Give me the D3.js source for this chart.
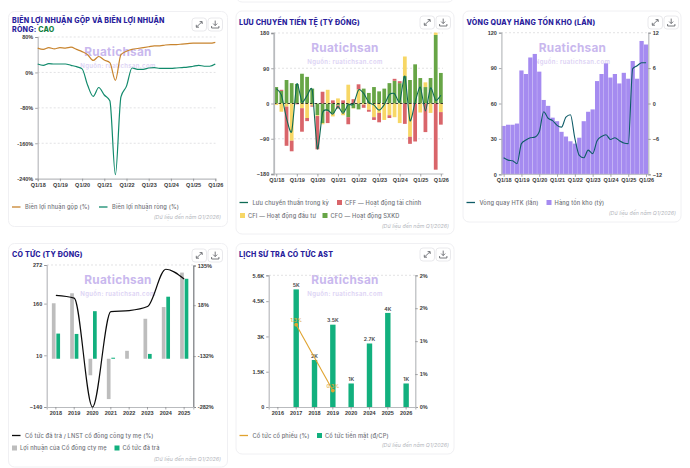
<!DOCTYPE html>
<html lang="vi">
<head>
<meta charset="utf-8">
<script src="https://cdn.jsdelivr.net/npm/d3@7"></script>
<style>
  html, body { margin: 0; padding: 0; background: #fff; overflow: hidden; }
  svg { display: block; font-family: Inter, "Noto Sans", sans-serif; }
  .tick text { font-size: 5.5px; font-weight: 700; fill: #3a3a3a; }
  .title { font-size: 7.05px; font-weight: 800; fill: #2a1d9c; letter-spacing: .22px; }
  .legend { font-size: 5.7px; font-weight: 500; fill: #6f7278; letter-spacing: .15px; }
  .note { font-size: 5.3px; font-style: italic; fill: #b4b6bc; }
  .wm1 { font-size: 11.8px; font-weight: 700; fill: #c9b8ee; letter-spacing: .3px; text-anchor: middle; }
  .wm2 { font-size: 6px; font-weight: 600; fill: #dcd2f4; letter-spacing: .35px; text-anchor: middle; }
</style>
</head>
<body>
<svg id="board" width="690" height="468"></svg>
<script>
// Quarterly axis shared by the three time-series panels
const quarters = ["18","19","20","21","22","23","24","25"].flatMap(y => [1,2,3,4].map(q => `Q${q}/${y}`)).concat(["Q1/26"]);
const yearTicks = quarters.filter(q => q.startsWith("Q1/"));

// Margins (%)
const grossMargin = [55,52,56,53,56,55,57,52,47,40,27,36,28,22,-18,40,48,52,54,56,58,60,60,62,63,63,64,65,66,66,66,66,68];
const netMargin = [19,16,20,19,19,19,16,13,8,-29,-54,-34,-51,-64,-231,-55,-31,10,7,7,10,11,9,9,9,10,11,12,14,16,14,14,19];

// Cash flows (billion VND)
const cfo = [42,32,60,52,50,76,68,38,-30,-50,-20,-25,-5,-22,-35,-12,-15,38,27,42,31,38,52,58,52,70,60,100,65,42,65,175,78];
const cff = [0,3,-100,-27,-2,-60,-8,-3,-85,30,-30,8,-8,8,-18,11,13,-8,-5,-7,-24,0,-7,5,5,-52,-18,-97,0,-73,0,-169,-32];
const cfi = [-4,-21,-8,-95,0,-12,-37,-5,-2,-3,35,-8,13,-8,48,-1,36,-3,-16,-35,-24,-42,-30,-35,-50,50,-85,0,-23,12,-24,6,-22];
const netCash = [38,22,-38,-72,50,4,20,34,-116,-24,-17,-27,-8,-25,-3,-2,35,26,3,-4,-17,-3,23,25,4,70,-44,4,42,-19,40,8,21];

// Inventory (billion VND) and turnover (times)
const inventory = [41,42,42,43,88,85,99,102,87,63,58,48,45,36,32,28,26,31,45,53,55,79,85,94,82,85,77,86,81,96,81,113,110];
const turnover = [-9.2,-9.6,-9.7,-10.2,-6.8,-6.2,-5.8,-5.7,-4.8,-1.4,-2.5,-2.9,-3.7,-4,-2.3,-1.9,-5.9,-8.8,-9.2,-7.9,-8.5,-6.3,-5.6,-5.3,-6.1,-5.8,-6.3,-6.7,-6.8,5.9,6.4,6.9,6.9];

// Yearly dividend figures
const divYears = ["2018","2019","2020","2021","2022","2023","2024","2025"];
const parentProfit = [161,190,-48,-117,23,116,150,250];
const dividendPaid = [73,72,138,3,0,14,180,232];
const payoutRatio = [47,39,-282,-1,2,14,124,95];

// Per-share dividend history
const histYears = ["2016","2017","2018","2019","2020","2024","2025","2026"];
const cashDividend = [null,5000,2000,3500,1000,2700,4000,1000];
const stockDividend = [null,1.25,null,0.25,null,null,null,null];
const stockLabels = [null,"1.3%",null,"0.3%",null,null,null,null];

const COLORS = {
  gross: "#c8842e", net: "#118a6c",
  net2: "#0f6b55", cff: "#d9656a", cfi: "#f7d766", cfo: "#67a546",
  inv: "#a58bf0", turn: "#0f5c68",
  grey: "#bdbdbd", green: "#12b07e",
  stock: "#e0a32f", black: "#0b0b0b",
  axis: "#b9bbbe", grid: "#d5d6d9"
};
const NOTE = "(Dữ liệu đến năm Q1/2026)";
const svg = d3.select("#board");

function card(x, y, w, h) {
  svg.append("rect").attr("x", x).attr("y", y).attr("width", w).attr("height", h)
    .attr("rx", 6).attr("fill", "#fff").attr("stroke", "#f0f0f3");
}

function toolButtons(right, top) {
  [right - 31, right - 15].forEach((bx, i) => {
    const g = svg.append("g").attr("transform", `translate(${bx},${top})`);
    g.append("rect").attr("width", 14.5).attr("height", 13).attr("rx", 3)
      .attr("fill", "#fff").attr("stroke", "#e9e9ec");
    const d = i === 0
      ? "M4.5 9 L10 3.8 M7.6 3.6 H10.2 V6 M4.3 6.8 V9.2 H7"
      : "M7.2 2.6 V7.4 M5.2 5.6 L7.2 7.6 L9.2 5.6 M3.6 8 V10 H10.9 V8";
    g.append("path").attr("d", d).attr("fill", "none").attr("stroke", "#55585e").attr("stroke-width", .8);
  });
}

function cardText(x, lines, midX, wmY) {
  lines.forEach(l => {
    const t = svg.append("text").attr("class", "title").attr("x", x).attr("y", l.y);
    t.append("tspan").text(l.text);
    if (l.extra) t.append("tspan").attr("fill", "#12803f").text(l.extra);
  });
  svg.append("text").attr("class", "wm1").attr("x", midX).attr("y", wmY).text("Ruatichsan");
  svg.append("text").attr("class", "wm2").attr("x", midX).attr("y", wmY + 12.5).text("Nguồn: ruatichsan.com");
}

function noteText(right, y) {
  svg.append("text").attr("class", "note").attr("x", right).attr("y", y)
    .attr("text-anchor", "end").text(NOTE);
}

function legendLine(x, y, color, label, w) {
  svg.append("line").attr("x1", x).attr("x2", x + w).attr("y1", y).attr("y2", y)
    .attr("stroke", color).attr("stroke-width", 1.3);
  svg.append("text").attr("class", "legend").attr("x", x + w + 4.5).attr("y", y + 2).text(label);
}

function legendBox(x, y, color, label) {
  svg.append("rect").attr("x", x).attr("y", y - 2.5).attr("width", 5).attr("height", 5).attr("fill", color);
  svg.append("text").attr("class", "legend").attr("x", x + 8).attr("y", y + 2).text(label);
}

function styleAxis(g, width) {
  g.selectAll(".domain").attr("stroke", COLORS.axis).attr("stroke-width", width || 1.2);
  g.selectAll(".tick line").attr("stroke", "#7f8185").attr("stroke-width", .7);
}

function dashedRule(x0, x1, y, color, w) {
  svg.append("line").attr("x1", x0).attr("x2", x1).attr("y1", y).attr("y2", y)
    .attr("stroke", color || COLORS.grid).attr("stroke-width", w || .7).attr("stroke-dasharray", "2,2");
}

function axisBottom(scale, y, ticks) {
  const g = svg.append("g").attr("transform", `translate(0,${y})`)
    .call(d3.axisBottom(scale).tickValues(ticks).tickSize(2.5).tickPadding(1.5));
  styleAxis(g);
  return g;
}

function axisLeft(scale, x, ticks, fmt) {
  const g = svg.append("g").attr("transform", `translate(${x},0)`)
    .call(d3.axisLeft(scale).tickValues(ticks).tickFormat(fmt).tickSize(2.5).tickPadding(2));
  styleAxis(g);
  return g;
}

function axisRight(scale, x, ticks, fmt) {
  const g = svg.append("g").attr("transform", `translate(${x},0)`)
    .call(d3.axisRight(scale).tickValues(ticks).tickFormat(fmt).tickSize(2.5).tickPadding(2));
  styleAxis(g);
  return g;
}

// Sliver of the card that sits above the second column
svg.append("rect").attr("x", 236).attr("y", -30).attr("width", 218).attr("height", 32)
  .attr("rx", 6).attr("fill", "#fff").attr("stroke", "#f0f0f3");

// ---- Gross and net margin ----
(function () {
  card(8.5, 11.5, 219, 215);
  cardText(12, [
    { text: "BIÊN LỢI NHUẬN GỘP VÀ BIÊN LỢI NHUẬN", y: 22.5 },
    { text: "RÒNG: ", extra: "CAO", y: 31.5 }
  ], 118, 55.5);
  toolButtons(223, 18);
  const x = d3.scalePoint().domain(quarters).range([37.7, 215.3]);
  const y = d3.scaleLinear().domain([-240, 80]).range([178.7, 37]);
  [80, 0, -80, -160].forEach(v => dashedRule(37.7, 215.5, y(v)));
  axisLeft(y, 37.7, [80, 0, -80, -160, -240], d => d + "%");
  axisBottom(x, 178.7, yearTicks);
  const line = s => d3.line().x((d, i) => x(quarters[i])).y(d => y(d)).curve(d3.curveMonotoneX)(s);
  svg.append("path").attr("d", line(grossMargin)).attr("fill", "none").attr("stroke", COLORS.gross).attr("stroke-width", 1.2);
  svg.append("path").attr("d", line(netMargin)).attr("fill", "none").attr("stroke", COLORS.net).attr("stroke-width", 1.2);
  legendLine(12, 207, COLORS.gross, "Biên lợi nhuận gộp (%)", 8.5);
  legendLine(99, 207, COLORS.net, "Biên lợi nhuận ròng (%)", 8.5);
  noteText(221, 219);
})();

// ---- Cash flow ----
(function () {
  card(236, 11, 218, 223);
  cardText(239, [{ text: "LƯU CHUYỂN TIỀN TỆ (TỶ ĐỒNG)", y: 24.5 }], 345, 51.5);
  toolButtons(451, 16);
  const x = d3.scaleBand().domain(quarters).range([273.7, 443.4]).paddingInner(.27).paddingOuter(.13);
  const cx = q => x(q) + x.bandwidth() / 2;
  const y = d3.scaleLinear().domain([-180, 180]).range([174, 33]);
  [180, 90, -90].forEach(v => dashedRule(274, 443, y(v)));
  quarters.forEach((q, i) => {
    let up = 0, down = 0;
    [["cfo", cfo[i]], ["cfi", cfi[i]], ["cff", cff[i]]].forEach(([k, v]) => {
      if (!v) return;
      const base = v > 0 ? up : down;
      const end = base + v;
      svg.append("rect").attr("x", x(q)).attr("width", x.bandwidth())
        .attr("y", y(Math.max(base, end))).attr("height", Math.abs(y(base) - y(end)))
        .attr("fill", COLORS[k]);
      if (v > 0) up = end; else down = end;
    });
  });
  svg.append("line").attr("x1", 274).attr("x2", 443).attr("y1", y(0)).attr("y2", y(0))
    .attr("stroke", "#111").attr("stroke-width", .8).attr("stroke-dasharray", "2.5,2");
  axisLeft(y, 273.7, [180, 90, 0, -90, -180], d3.format("d")).call(g => g.select(".domain").attr("stroke-width", 1.8));
  const xAxis = d3.scalePoint().domain(quarters).range([cx(quarters[0]), cx(quarters[32])]);
  svg.append("line").attr("x1", 273.7).attr("x2", 443.4).attr("y1", 174).attr("y2", 174).attr("stroke", COLORS.axis);
  axisBottom(xAxis, 174, yearTicks).call(g => g.select(".domain").remove());
  svg.append("path")
    .attr("d", d3.line().x((d, i) => cx(quarters[i])).y(d => y(d)).curve(d3.curveCardinal.tension(.35))(netCash))
    .attr("fill", "none").attr("stroke", COLORS.net2).attr("stroke-width", 1.1);
  legendLine(239.5, 202.5, COLORS.net2, "Lưu chuyển thuần trong kỳ", 8.5);
  legendBox(337, 202.5, COLORS.cff, "CFF — Hoạt động tài chính");
  legendBox(240, 215.5, COLORS.cfi, "CFI — Hoạt động đầu tư");
  legendBox(322.5, 215.5, COLORS.cfo, "CFO — Hoạt động SXKD");
  noteText(449, 228);
})();

// ---- Inventory turnover ----
(function () {
  card(463, 11, 218, 211);
  cardText(466.5, [{ text: "VÒNG QUAY HÀNG TỒN KHO (LẦN)", y: 24.5 }], 572.5, 51.5);
  toolButtons(679, 16);
  const x = d3.scaleBand().domain(quarters).range([501.4, 648.3]).paddingInner(.05).paddingOuter(.03);
  const cx = q => x(q) + x.bandwidth() / 2;
  const y = d3.scaleLinear().domain([0, 120]).range([174.3, 32.7]);
  const yR = d3.scaleLinear().domain([-12, 12]).range([174.3, 32.7]);
  dashedRule(501, 648, y(120));
  svg.selectAll(null).data(inventory).enter().append("rect")
    .attr("x", (d, i) => x(quarters[i])).attr("width", x.bandwidth())
    .attr("y", d => y(d)).attr("height", d => y(0) - y(d)).attr("fill", COLORS.inv);
  axisLeft(y, 501.4, [0, 30, 60, 90, 120], d3.format("d"));
  axisRight(yR, 648.3, [-12, -6, 0, 6, 12], d3.format("d"));
  const xAxis = d3.scalePoint().domain(quarters).range([cx(quarters[0]), cx(quarters[32])]);
  svg.append("line").attr("x1", 501.4).attr("x2", 648.3).attr("y1", 174.3).attr("y2", 174.3).attr("stroke", COLORS.axis);
  axisBottom(xAxis, 174.3, yearTicks).call(g => g.select(".domain").remove());
  svg.append("path")
    .attr("d", d3.line().x((d, i) => cx(quarters[i])).y(d => yR(d)).curve(d3.curveMonotoneX)(turnover))
    .attr("fill", "none").attr("stroke", COLORS.turn).attr("stroke-width", 1.1);
  legendLine(466.5, 202.5, COLORS.turn, "Vòng quay HTK (lần)", 8.5);
  legendBox(546.5, 202.5, COLORS.inv, "Hàng tồn kho (tỷ)");
  noteText(676, 215);
})();

// ---- Dividends ----
(function () {
  card(8.5, 243.5, 219, 223.5);
  cardText(12, [{ text: "CỔ TỨC (TỶ ĐỒNG)", y: 257 }], 118, 283.5);
  toolButtons(223, 249);
  const x = d3.scaleBand().domain(divYears).range([46.7, 193.3]);
  const y = d3.scaleLinear().domain([-140, 272]).range([407, 265]);
  const yR = d3.scaleLinear().domain([-282, 135]).range([407, 265.5]);
  dashedRule(47, 193, y(272));
  divYears.forEach((yr, i) => {
    const c = x(yr) + x.bandwidth() / 2;
    svg.append("rect").attr("x", c - 4).attr("width", 3.7)
      .attr("y", y(Math.max(0, parentProfit[i]))).attr("height", Math.abs(y(parentProfit[i]) - y(0))).attr("fill", COLORS.grey);
    svg.append("rect").attr("x", c + .5).attr("width", 3.7)
      .attr("y", y(Math.max(0, dividendPaid[i]))).attr("height", Math.abs(y(dividendPaid[i]) - y(0))).attr("fill", COLORS.green);
  });
  axisLeft(y, 46.7, [272, 160, 10, -140], d3.format("d"));
  axisRight(yR, 193.3, [135, 18, -132, -282], d => d + "%").call(g => g.select(".domain").attr("stroke", "#77797d"));
  axisBottom(x, 407, divYears);
  svg.append("path")
    .attr("d", d3.line().x((d, i) => x(divYears[i]) + x.bandwidth() / 2).y(d => yR(d)).curve(d3.curveMonotoneX)(payoutRatio))
    .attr("fill", "none").attr("stroke", COLORS.black).attr("stroke-width", 1.2);
  legendLine(12, 435.5, COLORS.black, "Cổ tức đã trả / LNST cổ đông công ty mẹ (%)", 8.5);
  legendBox(12, 448, COLORS.grey, "Lợi nhuận của Cổ đông cty mẹ");
  legendBox(114.5, 448, COLORS.green, "Cổ tức đã trả");
  noteText(221, 461);
})();

// ---- Per-share dividend history ----
(function () {
  card(236, 243.5, 218, 210.5);
  cardText(239, [{ text: "LỊCH SỬ TRẢ CỔ TỨC AST", y: 257 }], 345, 283.5);
  toolButtons(451, 248);
  const x = d3.scaleBand().domain(histYears).range([268.7, 415.3]);
  const cx = yr => x(yr) + x.bandwidth() / 2;
  const y = d3.scaleLinear().domain([0, 5600]).range([407, 275.3]);
  const yR = d3.scaleLinear().domain([0, 2]).range([407, 275.3]);
  dashedRule(269, 415, y(5600));
  const kFmt = v => v === 0 ? "0" : (v / 1000) + "K";
  histYears.forEach((yr, i) => {
    const v = cashDividend[i];
    if (v === null) return;
    svg.append("rect").attr("x", cx(yr) - 2.7).attr("width", 5.4)
      .attr("y", y(v)).attr("height", y(0) - y(v)).attr("fill", COLORS.green);
    svg.append("text").attr("x", cx(yr)).attr("y", y(v) - 2.2).attr("text-anchor", "middle")
      .attr("font-size", 5.2).attr("font-weight", 600).attr("fill", "#444").text(kFmt(v));
  });
  axisLeft(y, 268.7, [0, 1500, 3000, 4500, 5600], kFmt);
  axisRight(yR, 415.3, [0, .5, 1, 1.5, 2], d => Math.round(d) === 0 ? "0%" : Math.ceil(d) + "%");
  axisBottom(x, 407, histYears);
  const pts = histYears.map((yr, i) => ({ yr, v: stockDividend[i], label: stockLabels[i] })).filter(d => d.v !== null);
  svg.append("path")
    .attr("d", d3.line().x(d => cx(d.yr)).y(d => yR(d.v))(pts))
    .attr("fill", "none").attr("stroke", COLORS.stock).attr("stroke-width", 1.1);
  pts.forEach(d => {
    svg.append("circle").attr("cx", cx(d.yr)).attr("cy", yR(d.v)).attr("r", 1.9).attr("fill", COLORS.stock);
    svg.append("text").attr("x", cx(d.yr)).attr("y", yR(d.v) - 2.2).attr("text-anchor", "middle")
      .attr("font-size", 5).attr("font-weight", 500).attr("fill", COLORS.stock).text(d.label);
  });
  legendLine(239.5, 435.5, COLORS.stock, "Cổ tức cổ phiếu (%)", 8.5);
  legendBox(317, 435.5, COLORS.green, "Cổ tức tiền mặt (đ/CP)");
  noteText(449, 447);
})();
</script>
</body>
</html>
